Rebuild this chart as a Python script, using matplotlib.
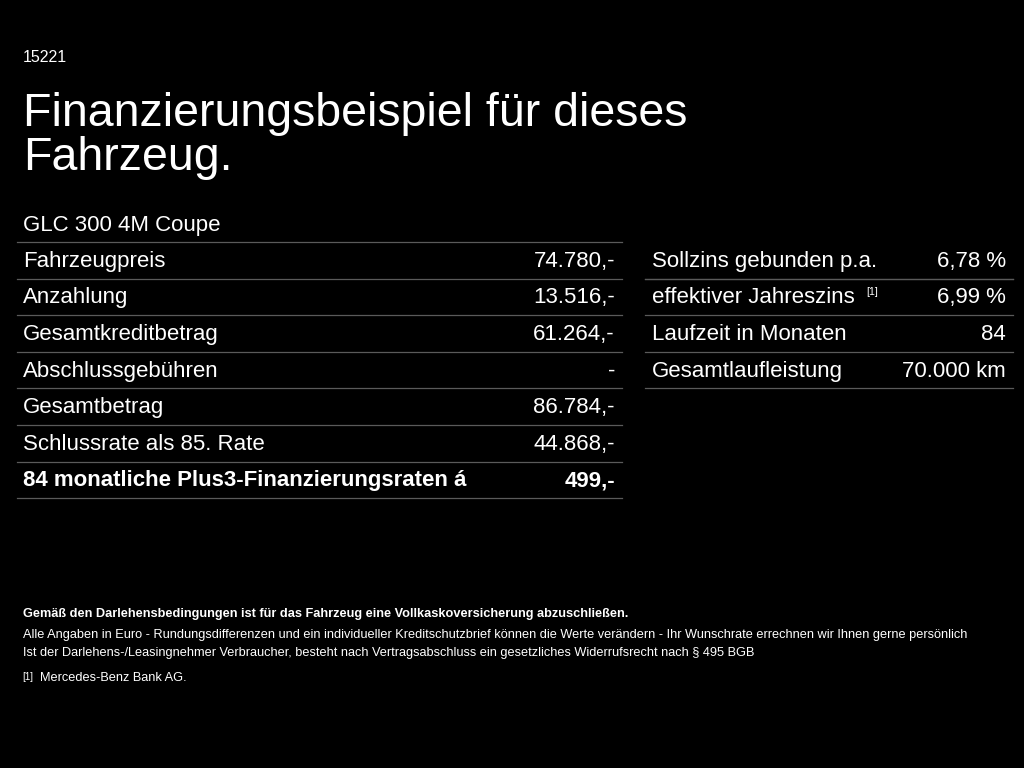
import matplotlib.pyplot as plt
from matplotlib.lines import Line2D

plt.rcParams['font.family'] = ['Liberation Sans', 'DejaVu Sans']

# ---------- data ----------
offer_id = "15221"
title = "Finanzierungsbeispiel für dieses\nFahrzeug."
model = "GLC 300 4M Coupe"

left_labels = ["Fahrzeugpreis", "Anzahlung", "Gesamtkreditbetrag", "Abschlussgebühren",
               "Gesamtbetrag", "Schlussrate als 85. Rate",
               "84 monatliche Plus3-Finanzierungsraten á"]
left_values = ["74.780,-", "13.516,-", "61.264,-", "-", "86.784,-", "44.868,-", "499,-"]

right_labels = ["Sollzins gebunden p.a.", "effektiver Jahreszins", "Laufzeit in Monaten",
                "Gesamtlaufleistung"]
right_values = ["6,78 %", "6,99 %", "84", "70.000 km"]

notes = [
    "Alle Angaben in Euro - Rundungsdifferenzen und ein individueller Kreditschutzbrief können die Werte verändern - Ihr Wunschrate errechnen wir Ihnen gerne persönlich",
    "Ist der Darlehens-/Leasingnehmer Verbraucher, besteht nach Vertragsabschluss ein gesetzliches Widerrufsrecht nach § 495 BGB",
]
note_bold = "Gemäß den Darlehensbedingungen ist für das Fahrzeug eine Vollkaskoversicherung abzuschließen."
footnote = "Mercedes-Benz Bank AG."

W, H = 1024, 768
fig = plt.figure(figsize=(10.24, 7.68), dpi=100, facecolor="black")


def px(x, y):
    return x / W, 1 - y / H


def txt(x, y, s, **kw):
    kw.setdefault("color", "white")
    fig.text(*px(x, y), s, **kw)


def hline(x0, x1, y):
    fig.add_artist(Line2D([x0 / W, x1 / W], [1 - y / H] * 2, color="#5a5a5a", lw=0.9))


txt(23, 58, offer_id, fontsize=11.5, va="center")
txt(23, 136, title, fontsize=33.5, va="center", linespacing=1.0)
txt(23, 225, model, fontsize=16, va="center")

fs = 16
row_h = 36.6
top = 242
hline(17, 622, top)
for i, (lab, val) in enumerate(zip(left_labels, left_values)):
    yc = top + row_h * (i + 0.5) + 1
    bold = i == len(left_labels) - 1
    w = "bold" if bold else "normal"
    txt(23, yc, lab, fontsize=fs, va="center", fontweight=w)
    txt(615, yc, val, fontsize=fs, va="center", ha="right", fontweight=w)
    hline(17, 622, top + row_h * (i + 1))

hline(645, 1013, top + row_h)
for i, (lab, val) in enumerate(zip(right_labels, right_values)):
    yc = top + row_h * (i + 0.5) + 1
    txt(652, yc, lab, fontsize=fs, va="center")
    txt(1006, yc, val, fontsize=fs, va="center", ha="right")
    hline(645, 1013, top + row_h * (i + 1))
txt(866, 292, "[1]", fontsize=7.5, va="center")

txt(23, 614, note_bold, fontsize=9.2, va="center", fontweight="bold")
for i, n in enumerate(notes):
    txt(23, 635 + 18 * i, n, fontsize=9.2, va="center")
txt(22, 677, "[1]", fontsize=7, va="center")
txt(40, 678, footnote, fontsize=9.2, va="center")

fig.savefig("out.png", dpi=100, facecolor="black")
